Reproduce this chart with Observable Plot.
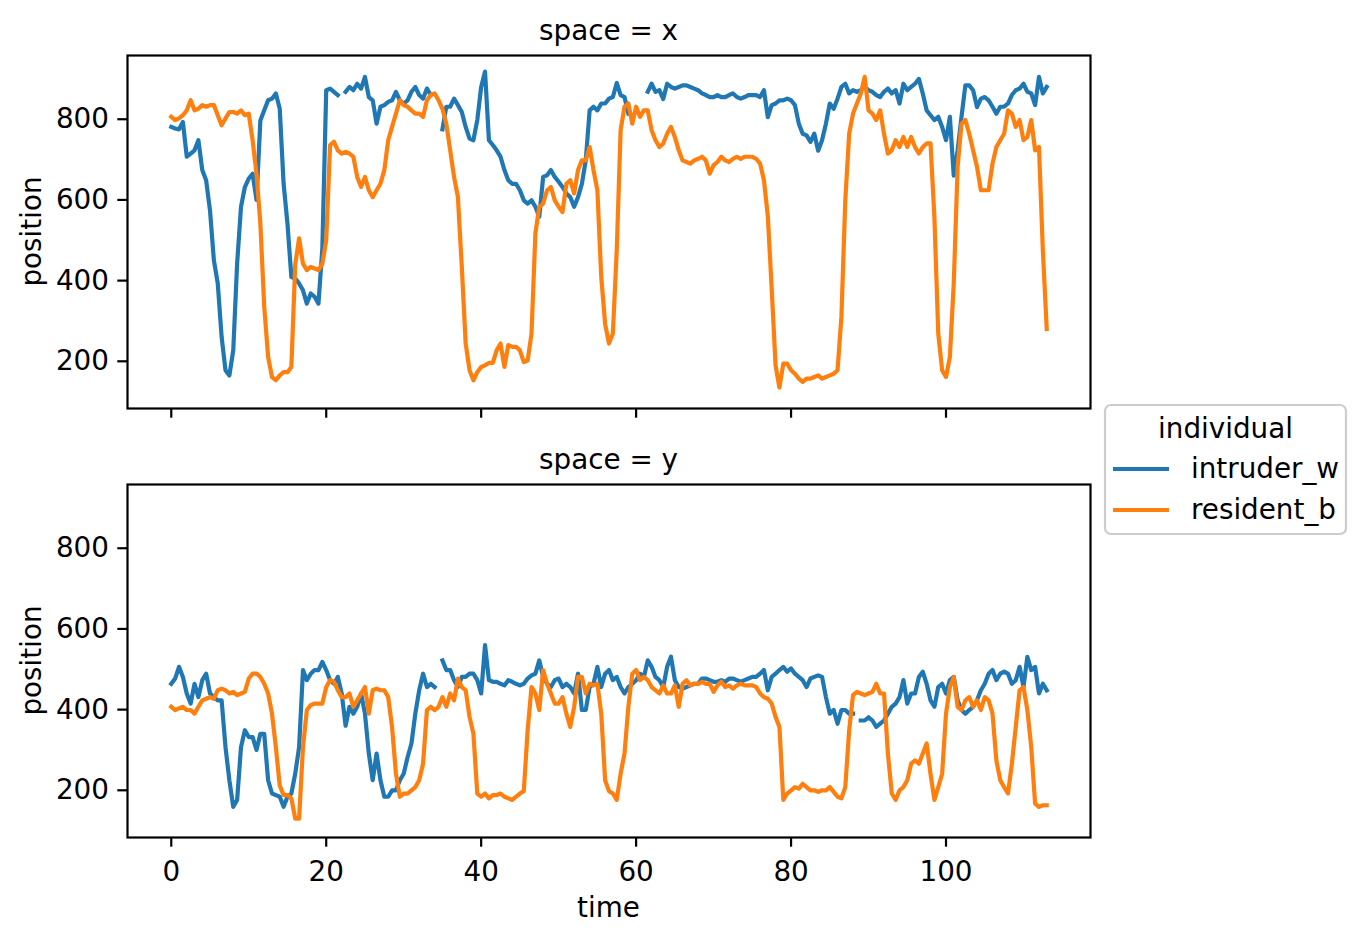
<!DOCTYPE html>
<html>
<head>
<meta charset="utf-8">
<script src="https://cdn.jsdelivr.net/npm/d3@7"></script>
<script src="https://cdn.jsdelivr.net/npm/@observablehq/plot@0.6"></script>
<style>
  html, body { margin: 0; padding: 0; background: #fff; }
  #fig { position: relative; width: 1359px; height: 941px; background: #fff; overflow: hidden; font-family: "DejaVu Sans", sans-serif; }
  .panel { position: absolute; left: 0; }
  #overlay { position: absolute; left: 0; top: 0; }
</style>
</head>
<body>
<div id="fig"></div>
<script>
// ---- data ----
const time = [
  0,0.5,1,1.5,2,2.5,3,3.5,4,4.5,
  5,5.5,6,6.5,7,7.5,8,8.5,9,9.5,
  10,10.5,11,11.5,12,12.5,13,13.5,14,14.5,
  15,15.5,16,16.5,17,17.5,18,18.5,19,19.5,
  20,20.5,21,21.5,22,22.5,23,23.5,24,24.5,
  25,25.5,26,26.5,27,27.5,28,28.5,29,29.5,
  30,30.5,31,31.5,32,32.5,33,33.5,34,34.5,
  35,35.5,36,36.5,37,37.5,38,38.5,39,39.5,
  40,40.5,41,41.5,42,42.5,43,43.5,44,44.5,
  45,45.5,46,46.5,47,47.5,48,48.5,49,49.5,
  50,50.5,51,51.5,52,52.5,53,53.5,54,54.5,
  55,55.5,56,56.5,57,57.5,58,58.5,59,59.5,
  60,60.5,61,61.5,62,62.5,63,63.5,64,64.5,
  65,65.5,66,66.5,67,67.5,68,68.5,69,69.5,
  70,70.5,71,71.5,72,72.5,73,73.5,74,74.5,
  75,75.5,76,76.5,77,77.5,78,78.5,79,79.5,
  80,80.5,81,81.5,82,82.5,83,83.5,84,84.5,
  85,85.5,86,86.5,87,87.5,88,88.5,89,89.5,
  90,90.5,91,91.5,92,92.5,93,93.5,94,94.5,
  95,95.5,96,96.5,97,97.5,98,98.5,99,99.5,
  100,100.5,101,101.5,102,102.5,103,103.5,104,104.5,
  105,105.5,106,106.5,107,107.5,108,108.5,109,109.5,
  110,110.5,111,111.5,112,112.5,113
];

// space = x
const xIntruder = [
  781,777,775,793,707,715,723,748,674,649,
  574,450,393,260,178,165,227,442,583,632,
  653,665,600,797,822,847,851,864,826,640,
  541,409,405,393,376,343,368,360,343,480,
  872,876,868,860,null,868,880,872,888,876,
  905,855,847,789,831,835,843,847,868,847,
  839,847,868,880,860,851,876,860,null,null,
  775,831,831,851,835,818,781,752,748,798,
  880,918,748,736,723,707,674,649,640,640,
  624,599,591,599,583,558,657,661,674,657,
  645,632,616,607,583,607,640,698,822,831,
  822,839,839,851,855,890,860,855,814,null,
  null,null,null,868,888,868,872,850,888,880,
  876,880,884,884,880,876,872,864,860,855,
  855,860,855,855,860,864,855,851,855,860,
  860,860,855,872,805,835,839,847,847,851,
  847,835,789,764,760,744,764,722,748,789,
  839,826,851,880,888,864,872,868,872,880,
  872,868,860,855,868,876,864,872,839,888,
  872,880,888,900,864,822,810,798,806,781,
  748,806,660,723,806,884,884,872,830,851,
  855,847,831,814,831,831,839,860,872,876,
  888,868,864,835,905,864,880
];
const xResident = [
  806,798,802,810,822,847,822,826,835,831,
  835,835,810,785,802,818,818,814,822,810,
  814,748,665,541,335,211,161,153,165,173,
  173,186,440,505,442,426,434,430,426,442,
  500,736,744,723,715,719,715,707,657,632,
  657,624,607,624,640,674,748,781,814,847,
  835,831,822,814,814,806,847,860,864,847,
  826,789,723,657,607,434,244,178,153,173,
  186,190,196,196,227,244,186,240,236,236,
  227,198,202,269,517,583,591,624,632,599,
  583,570,640,649,616,674,698,698,731,674,
  624,409,293,244,269,475,773,831,839,789,
  831,806,822,822,773,748,731,740,764,781,
  756,723,698,694,690,698,702,707,698,665,
  686,694,707,698,694,702,707,702,707,707,
  707,702,690,649,560,380,190,135,194,194,
  178,169,157,149,157,157,161,165,157,161,
  165,169,178,310,599,764,814,839,864,905,
  822,814,798,822,764,715,723,748,731,756,
  731,756,731,715,731,740,740,558,269,178,
  161,211,393,682,789,798,764,723,682,624,
  624,624,690,731,748,764,822,814,781,798,
  748,756,798,723,731,475,280
];

// space = y
const yIntruder = [
  464,477,506,481,440,415,464,431,473,489,
  440,431,423,423,307,225,159,176,307,349,
  332,332,300,340,340,225,192,188,184,159,
  184,192,241,307,498,473,489,498,498,518,
  498,473,464,481,440,360,407,390,407,440,
  390,291,225,291,225,184,184,200,200,225,
  241,282,316,390,448,489,456,464,456,null,
  522,498,498,473,456,481,481,489,489,473,
  440,560,473,469,469,464,460,473,469,464,
  460,464,477,485,489,522,481,464,456,473,
  477,456,464,456,440,489,399,399,456,464,
  506,456,489,498,473,481,456,440,456,464,
  473,489,481,522,506,481,473,456,506,531,
  473,456,452,456,460,464,464,477,477,473,
  469,469,473,469,477,477,473,469,473,477,
  481,481,489,498,448,481,489,498,506,494,
  502,489,481,473,456,477,481,485,481,431,
  390,399,365,399,399,390,390,null,373,373,
  381,373,357,365,373,390,407,415,431,473,
  415,440,440,481,494,464,423,407,456,464,
  440,473,481,423,399,390,399,407,423,448,
  464,489,498,473,489,494,489,464,473,506,
  456,531,498,506,440,464,448
];
const yResident = [
  407,399,403,407,399,399,390,407,423,427,
  431,427,448,452,448,440,444,436,440,444,
  477,489,489,481,464,440,390,307,212,188,
  188,180,130,130,307,399,411,415,415,415,
  456,473,469,448,431,431,440,407,423,440,
  456,390,448,452,448,448,431,357,241,184,
  192,192,200,208,225,266,399,407,399,407,
  431,407,440,423,477,456,448,382,340,192,
  184,192,180,188,188,192,184,180,176,184,
  192,198,349,456,440,399,498,464,440,415,
  415,431,390,357,407,481,481,440,464,460,
  464,390,225,198,192,176,241,291,407,489,
  498,473,481,473,456,448,440,460,440,440,
  460,407,464,473,460,464,464,469,464,464,
  444,460,469,456,460,452,460,464,460,460,
  460,456,440,431,427,415,382,357,176,192,
  200,208,204,216,208,200,200,196,200,200,
  208,196,184,180,208,349,436,444,440,436,
  440,444,464,440,440,291,192,176,200,208,
  225,266,274,266,291,316,241,176,208,241,
  390,456,481,407,399,423,431,407,423,399,
  431,423,390,274,225,208,192,266,357,448,
  456,399,307,167,159,163,163
];

const individuals = ["intruder_w", "resident_b"];
const colors = ["#1f77b4", "#ff7f0e"];
const spaces = ["x", "y"];
const xTicks = [0, 20, 40, 60, 80, 100];
const yTicks = [200, 400, 600, 800];

// ---- build tidy rows ----
function rows(series, name) {
  return time.map((t, i) => ({
    time: t,
    position: series[i] == null ? NaN : series[i],
    individual: name
  }));
}
const panelData = {
  x: rows(xIntruder, individuals[0]).concat(rows(xResident, individuals[1])),
  y: rows(yIntruder, individuals[0]).concat(rows(yResident, individuals[1]))
};

const FS = 27.8;
const fig = document.getElementById("fig");

function panel(space, showXLabels, top, height, marginBottom) {
  const p = Plot.plot({
    width: 1100,
    height: height,
    marginLeft: 127,
    marginRight: 10,
    marginTop: 55,
    marginBottom: marginBottom,
    style: { fontFamily: "DejaVu Sans", fontSize: FS + "px", color: "black", background: "white", overflow: "visible" },
    x: { domain: [-5.65, 118.65] },
    y: { domain: [83, 958] },
    color: { domain: individuals, range: colors },
    marks: [
      Plot.axisY({ ticks: yTicks, tickSize: 9.7, tickPadding: 8.8, strokeWidth: 2.2, label: null }),
      Plot.axisX({ ticks: xTicks, tickSize: 9.7, tickPadding: 14, strokeWidth: 2.2, label: null,
                   tickFormat: showXLabels ? (d => String(d)) : (() => "") }),
      Plot.line(panelData[space], {
        x: "time", y: "position", z: "individual", stroke: "individual",
        strokeWidth: 4.2, strokeLinejoin: "round", strokeLinecap: "square"
      }),
      Plot.frame({ stroke: "black", strokeWidth: 2.2 })
    ]
  });
  p.classList.add("panel");
  p.style.top = top + "px";
  p.style.position = "absolute";
  p.style.maxWidth = "none";
  fig.appendChild(p);
}

panel(spaces[0], false, 0, 423, 15);
panel(spaces[1], true, 429, 512, 104);

// ---- titles, axis labels and legend (text overlay) ----
const ns = "http://www.w3.org/2000/svg";
const ov = document.createElementNS(ns, "svg");
ov.setAttribute("id", "overlay");
ov.setAttribute("width", 1359);
ov.setAttribute("height", 941);
fig.appendChild(ov);

function txt(s, x, y, opts = {}) {
  const t = document.createElementNS(ns, "text");
  t.textContent = s;
  t.setAttribute("x", x);
  t.setAttribute("y", y);
  t.setAttribute("font-family", "DejaVu Sans");
  t.setAttribute("font-size", FS);
  t.setAttribute("fill", "black");
  t.setAttribute("text-anchor", opts.anchor || "middle");
  if (opts.transform) t.setAttribute("transform", opts.transform);
  ov.appendChild(t);
  return t;
}

txt("space = " + spaces[0], 608.5, 40);
txt("space = " + spaces[1], 608.5, 469);
txt("position", 0, 0, { transform: "translate(41,231.5) rotate(-90)" });
txt("position", 0, 0, { transform: "translate(41,660.5) rotate(-90)" });
txt("time", 608.5, 917);

// legend
const box = document.createElementNS(ns, "rect");
box.setAttribute("x", 1105); box.setAttribute("y", 405);
box.setAttribute("width", 241); box.setAttribute("height", 129);
box.setAttribute("rx", 6); box.setAttribute("ry", 6);
box.setAttribute("fill", "white"); box.setAttribute("fill-opacity", 0.8);
box.setAttribute("stroke", "#cccccc"); box.setAttribute("stroke-width", 2.2);
ov.appendChild(box);
txt("individual", 1225.5, 437.5);
individuals.forEach((name, i) => {
  const y = 469 + i * 41;
  const ln = document.createElementNS(ns, "line");
  ln.setAttribute("x1", 1113); ln.setAttribute("x2", 1169);
  ln.setAttribute("y1", y); ln.setAttribute("y2", y);
  ln.setAttribute("stroke", colors[i]); ln.setAttribute("stroke-width", 4.2);
  ov.appendChild(ln);
  txt(name, 1191, y + 9.3, { anchor: "start" });
});
</script>
</body>
</html>
